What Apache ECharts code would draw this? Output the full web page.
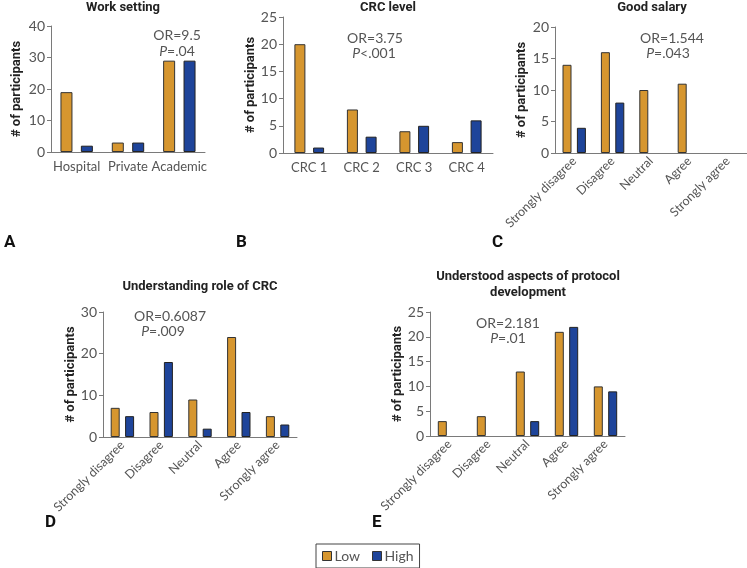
<!DOCTYPE html>
<html>
<head>
<meta charset="utf-8">
<script src="https://cdn.jsdelivr.net/npm/echarts@6/dist/echarts.min.js"></script>
<style>html,body{margin:0;padding:0;background:#fff}#c{width:747px;height:568px}</style>
</head>
<body>
<div id="c"></div>
<script>
// ---- Data ----
const catsA = ['Hospital', 'Private', 'Academic'];
const lowA = [19, 3, 29];
const highA = [2, 3, 29];

const catsB = ['CRC 1', 'CRC 2', 'CRC 3', 'CRC 4'];
const lowB = [20, 8, 4, 2];
const highB = [1, 3, 5, 6];

const likert = ['Strongly disagree', 'Disagree', 'Neutral', 'Agree', 'Strongly agree'];
const lowC = [14, 16, 10, 11, 0];
const highC = [4, 8, 0, 0, 0];

const lowD = [7, 6, 9, 24, 5];
const highD = [5, 18, 2, 6, 3];

const lowE = [3, 4, 13, 21, 10];
const highE = [0, 0, 3, 22, 9];

const titles = ['Work setting', 'CRC level', 'Good salary', 'Understanding role of CRC', 'Understood aspects of protocol\ndevelopment'];
const orText = ['OR=9.5', 'OR=3.75', 'OR=1.544', 'OR=0.6087', 'OR=2.181'];
const pText = ['=.04', '<.001', '=.043', '=.009', '=.01'];
const yMax = [40, 25, 20, 30, 25];
const yInterval = [10, 5, 5, 10, 5];
const panelLetters = ['A', 'B', 'C', 'D', 'E'];

// ---- Layout ----
const LOW_COLOR = '#D6962F';
const HIGH_COLOR = '#1E449A';
const AXIS_COLOR = '#7a7a7a';
const LIGHT = '#555';
const FONT = 'Lato, "Open Sans", sans-serif';
const BOLD = 'Roboto, "Noto Sans", sans-serif';

const grids = [
  {left: 51, top: 26, width: 154, height: 126},
  {left: 283, top: 17, width: 210, height: 136},
  {left: 555, top: 27, width: 192, height: 126},
  {left: 103, top: 312, width: 194, height: 125},
  {left: 430, top: 312, width: 195, height: 124}
];
const cats = [catsA, catsB, likert, likert, likert];
const lows = [lowA, lowB, lowC, lowD, lowE];
const highs = [highA, highB, highC, highD, highE];
const nameGaps = [28, 23, 27, 24, 23];
const barW = [12, 11, 9, 9, 9];
const titlePos = [[123, 0], [388, 0], [652, 0], [200, 279], [528, 269]];
const orPos = [[177, 35], [375, 38], [672, 38], [170, 316], [508, 323]];
const pPos = [[177, 51], [374, 53], [668, 53], [163, 331], [508, 338]];
const letterPos = [[4, 234], [236, 234], [492, 234], [45, 514], [372, 514]];

const xAxes = [], yAxes = [], series = [], title = [], graphic = [];
grids.forEach((g, i) => {
  const rotated = i >= 2;
  xAxes.push({
    type: 'category', gridIndex: i, data: cats[i],
    axisLine: {lineStyle: {color: AXIS_COLOR, width: 1}},
    axisTick: {alignWithLabel: true, length: 4, lineStyle: {color: '#333'}},
    axisLabel: {
      color: LIGHT, fontFamily: FONT, fontSize: rotated ? 12.5 : 13,
      rotate: rotated ? 45 : 0, interval: 0, margin: rotated ? 6 : 8
    }
  });
  yAxes.push({
    type: 'value', gridIndex: i, min: 0, max: yMax[i], interval: yInterval[i],
    name: '# of participants', nameLocation: 'middle', nameGap: nameGaps[i],
    nameTextStyle: {fontFamily: BOLD, fontWeight: 'bold', fontSize: 13, color: '#222'},
    axisLine: {show: true, lineStyle: {color: AXIS_COLOR, width: 1}},
    axisTick: {show: true, length: 4, lineStyle: {color: AXIS_COLOR}},
    splitLine: {show: false},
    axisLabel: {color: LIGHT, fontFamily: FONT, fontSize: 14, margin: 6}
  });
  const toData = arr => arr.map(v => v === 0 ? null : v);
  series.push({
    name: 'Low', type: 'bar', xAxisIndex: i, yAxisIndex: i, data: toData(lows[i]),
    barWidth: barW[i], barGap: i < 2 ? '70%' : '60%',
    itemStyle: {color: LOW_COLOR, borderColor: '#333', borderWidth: 1}
  });
  series.push({
    name: 'High', type: 'bar', xAxisIndex: i, yAxisIndex: i, data: toData(highs[i]),
    barWidth: barW[i], barGap: i < 2 ? '70%' : '60%',
    itemStyle: {color: HIGH_COLOR, borderColor: '#222', borderWidth: 1}
  });
  title.push({
    text: titles[i], left: titlePos[i][0], top: titlePos[i][1], textAlign: 'center', padding: 0,
    textStyle: {fontFamily: BOLD, fontWeight: 'bold', fontSize: 13, color: '#222', lineHeight: 16}
  });
  graphic.push({
    type: 'text', x: orPos[i][0], y: orPos[i][1],
    style: {text: orText[i], fill: LIGHT, font: '14px ' + FONT, align: 'center', verticalAlign: 'middle'}
  });
  graphic.push({
    type: 'text', x: pPos[i][0], y: pPos[i][1],
    style: {
      text: '{i|P}{n|' + pText[i] + '}', align: 'center', verticalAlign: 'middle',
      rich: {
        i: {fill: LIGHT, fontFamily: FONT, fontSize: 14, fontStyle: 'italic'},
        n: {fill: LIGHT, fontFamily: FONT, fontSize: 14}
      }
    }
  });
  graphic.push({
    type: 'text', x: letterPos[i][0], y: letterPos[i][1],
    style: {text: panelLetters[i], fill: '#111', font: 'bold 17px ' + BOLD}
  });
});

const chart = echarts.init(document.getElementById('c'), null, {renderer: 'canvas'});
chart.setOption({
  animation: false,
  title: title,
  grid: grids,
  xAxis: xAxes,
  yAxis: yAxes,
  series: series,
  graphic: graphic,
  legend: {
    data: ['Low', 'High'], left: 316, top: 544,
    itemWidth: 9, itemHeight: 9, itemGap: 12,
    borderColor: '#444', borderWidth: 1, padding: [5, 6, 5, 6],
    textStyle: {color: LIGHT, fontFamily: FONT, fontSize: 14, padding: [0, 0, 0, -2]},
    icon: 'rect',
    itemStyle: {borderColor: '#333', borderWidth: 1}
  }
});
</script>
</body>
</html>
